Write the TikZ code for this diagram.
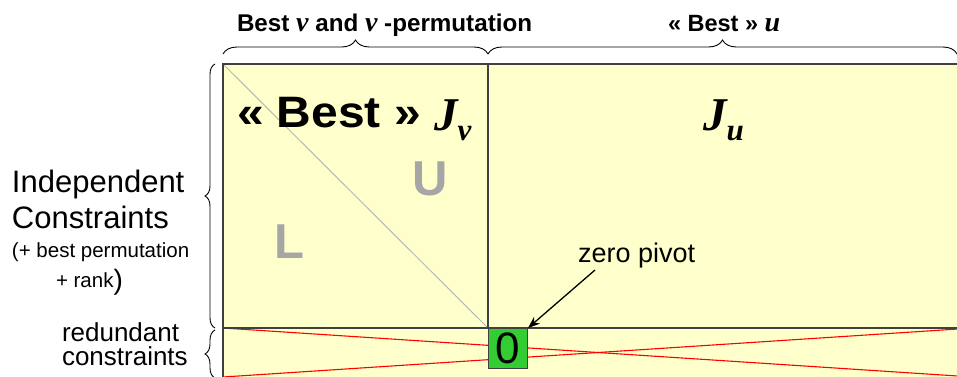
\documentclass[tikz,border=0pt]{standalone}
\usepackage{fontspec}
\setmainfont{Liberation Sans}
\newfontfamily\tnr{Liberation Serif}
\usetikzlibrary{decorations.pathreplacing,arrows.meta}
\definecolor{bgyellow}{HTML}{FFFFCC}
\definecolor{gridgray}{HTML}{404040}
\definecolor{diaggray}{HTML}{B8B8B8}
\definecolor{lugray}{HTML}{A6A6A6}
\definecolor{pivgreen}{HTML}{33CC33}
\tikzset{
  gridline/.style={draw=gridgray, line width=1.1pt},
  crossline/.style={draw=red, line width=1.1pt},
  txt/.style={anchor=base west, inner sep=0pt, outer sep=0pt},
  bracedeco/.style={decorate, decoration={brace, amplitude=#1}, draw=black, line width=0.9pt},
  pivotbox/.style={draw=gridgray, fill=pivgreen, line width=1pt, minimum width=39pt, minimum height=40pt, inner sep=0pt, anchor=north west, font=\fontsize{44}{44}\selectfont},
}
\begin{document}
\begin{tikzpicture}[x=1pt,y=-1pt]
\useasboundingbox (0,0) rectangle (957,376);
% background
\fill[bgyellow] (223,64) rectangle (975,380);
% LU diagonal
\draw[diaggray, line width=1pt] (223,64) -- (488,328);
% red crossing lines
\draw[crossline] (223,328) -- (973,377);
\draw[crossline] (223,377) -- (973,328);
% grid
\draw[gridline] (223,380) -- (223,64) -- (975,64);
\draw[gridline] (488,64) -- (488,328);
\draw[gridline] (223,328) -- (975,328);
% pivot box
\node[pivotbox] (piv) at (488,328) {\raisebox{-1pt}{0}};
% texts in the matrix
\node[txt] (bestjv) at (237,127) {\scalebox{1.09}[1]{\fontsize{44}{44}\selectfont\bfseries « Best »}};
\node[txt] (jv) at (434,130) {\fontsize{47}{47}\selectfont\bfseries{\tnr\itshape J}\raisebox{-10pt}{\fontsize{31}{31}\selectfont\tnr\itshape v}};
\node[txt] (ju) at (703,130) {\fontsize{47}{47}\selectfont\bfseries{\tnr\itshape J}\raisebox{-10pt}{\fontsize{31}{31}\selectfont\tnr\itshape u}};
\node[txt, text=lugray] (U) at (412,195) {\fontsize{49}{49}\selectfont\bfseries U};
\node[txt, text=lugray] (L) at (274,258) {\fontsize{49}{49}\selectfont\bfseries L};
% zero pivot
\node[txt] (zp) at (578,262) {\fontsize{27}{27}\selectfont zero pivot};
\coordinate (arrstart) at (595,270);
\draw[-{Stealth[length=12pt,width=9pt]}, line width=1.3pt] (arrstart) -- (piv.north east);
% top labels
\node[txt] (topv) at (237,31) {\fontsize{24.2}{24.2}\selectfont\bfseries Best {\tnr\itshape\fontsize{28}{28}\selectfont v} and {\tnr\itshape\fontsize{28}{28}\selectfont v} -permutation};
\node[txt] (topu) at (668,31) {\fontsize{23.5}{23.5}\selectfont\bfseries « Best » {\tnr\itshape\fontsize{28}{28}\selectfont u}};
% top braces
\coordinate (b1a) at (223,54);
\coordinate (b1b) at (488,54);
\coordinate (b2a) at (488,54);
\coordinate (b2b) at (957,54);
\draw[bracedeco=14pt] (b1a) -- (b1b);
\draw[bracedeco=14pt] (b2a) -- (b2b);
% left labels
\node[txt] (indep) at (12,192) {\fontsize{31}{31}\selectfont Independent};
\node[txt] (constr) at (12,228) {\fontsize{31}{31}\selectfont Constraints};
\node[txt] (perm) at (12,257) {\fontsize{20.5}{20.5}\selectfont (+ best permutation};
\node[txt] (rank) at (56,287) {\fontsize{20.5}{20.5}\selectfont + rank\raisebox{-2pt}{\fontsize{28}{28}\selectfont)}};
\node[txt] (red1) at (62,341) {\fontsize{26}{26}\selectfont redundant};
\node[txt] (red2) at (62,365) {\fontsize{26}{26}\selectfont constraints};
% left braces
\coordinate (lb1a) at (215,328);
\coordinate (lb1b) at (215,64);
\coordinate (lb2a) at (215,378);
\coordinate (lb2b) at (215,330);
\draw[bracedeco=10pt] (lb1a) -- (lb1b);
\draw[bracedeco=10pt] (lb2a) -- (lb2b);
\end{tikzpicture}
\end{document}
